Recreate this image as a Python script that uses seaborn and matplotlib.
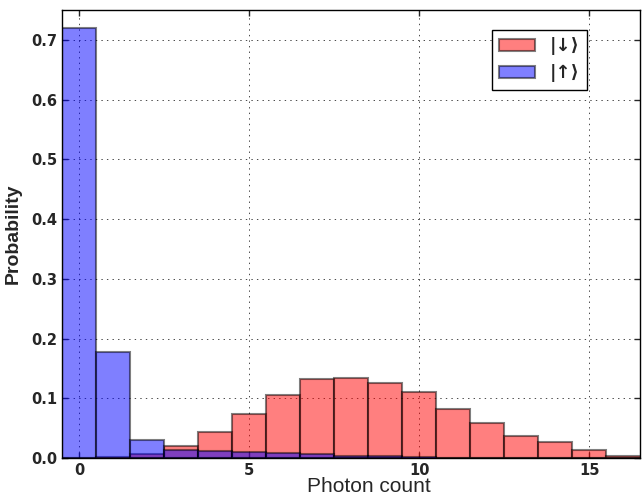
import numpy as np
import pandas as pd
import matplotlib
matplotlib.use("Agg")
import matplotlib.pyplot as plt
from matplotlib import font_manager
import seaborn as sns

# photon count bins
counts = list(range(17))
# probability per photon count, |down> state (red)
p_down = [0.001, 0.002, 0.007, 0.021, 0.043, 0.074, 0.106, 0.132, 0.134,
          0.126, 0.111, 0.083, 0.059, 0.037, 0.027, 0.013, 0.004]
# probability per photon count, |up> state (blue)
p_up = [0.720, 0.178, 0.031, 0.013, 0.012, 0.011, 0.009, 0.007, 0.004,
        0.003, 0.002, 0.001, 0.001, 0.001, 0.0, 0.0, 0.0]

df = pd.DataFrame({"count": counts, "down": p_down, "up": p_up})

sns.set_style("ticks", {
    "axes.grid": True,
    "grid.color": "k",
    "axes.edgecolor": "k",
    "xtick.direction": "in",
    "ytick.direction": "in",
})
plt.rcParams["font.family"] = ["DejaVu Sans"]

xlab_font = font_manager.FontProperties(family="Liberation Sans", size=15)
ylab_font = font_manager.FontProperties(family="Liberation Sans", size=14,
                                        weight="bold")

fig, ax = plt.subplots(figsize=(6.42, 4.98), dpi=100)

sns.histplot(x="count", weights="down", data=df, discrete=True,
             color="red", alpha=0.5, edgecolor=(0, 0, 0, 0.5), linewidth=1.5,
             label="|\u2193\u27e9", ax=ax)
sns.histplot(x="count", weights="up", data=df, discrete=True,
             color="blue", alpha=0.5, edgecolor=(0, 0, 0, 0.5), linewidth=1.5,
             label="|\u2191\u27e9", ax=ax)

ax.grid(True, color="k", linewidth=0.5, linestyle=(0, (2, 6)))
ax.set_xlim(-0.5, 16.5)
ax.set_ylim(0, 0.75)
ax.set_xticks([0, 5, 10, 15])
ax.set_yticks(np.arange(0, 0.71, 0.1))
ax.set_yticklabels([f"{v:.1f}" for v in np.arange(0, 0.71, 0.1)])
ax.tick_params(labelsize=10.5, top=True, right=True, length=4, width=1)
for t in ax.get_xticklabels() + ax.get_yticklabels():
    t.set_fontweight("bold")
ax.set_xlabel("Photon count", fontproperties=xlab_font)
ax.xaxis.set_label_coords(0.531, -0.043)
ax.set_ylabel("Probability", fontproperties=ylab_font, labelpad=7)
for s in ax.spines.values():
    s.set_linewidth(1)
    s.set_color("k")

leg = ax.legend(loc="upper right", bbox_to_anchor=(0.908, 0.955),
                borderaxespad=0, prop={"size": 13, "weight": "bold"},
                fancybox=False, framealpha=1, edgecolor="k",
                handlelength=2.0)
leg.get_frame().set_linewidth(1)

fig.subplots_adjust(left=0.097, right=0.997, top=0.98, bottom=0.08)
fig.savefig("out.png", dpi=100)
